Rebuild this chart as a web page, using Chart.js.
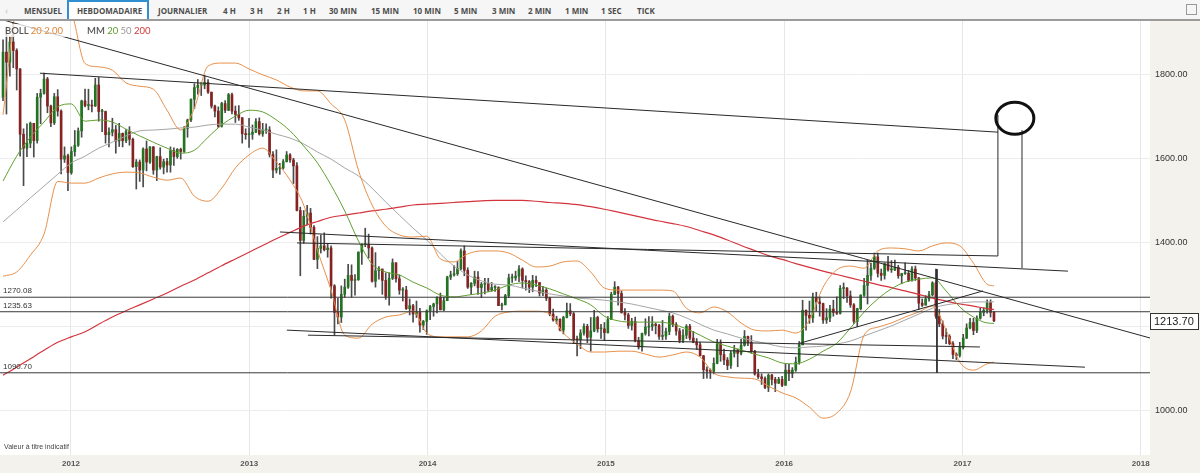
<!DOCTYPE html>
<html>
<head>
<meta charset="utf-8">
<script src="https://cdn.jsdelivr.net/npm/chart.js@4.4.1/dist/chart.umd.min.js"></script>
<style>
html, body { margin: 0; padding: 0; width: 1200px; height: 473px; overflow: hidden; background: #f4f2ed; font-family: "Liberation Sans", Arial, sans-serif; }
#bar { position: absolute; left: 0; top: 0; width: 1200px; height: 19px; background: #f6f6f6; border-bottom: 2px solid #9b9b9b; }
#bar span { position: absolute; top: 5px; font: bold 8px "Open Sans", sans-serif; color: #4d4d4d; white-space: nowrap; }
#sel { position: absolute; left: 67px; top: 0; width: 82px; height: 19px; box-sizing: border-box; border: 2px solid #2f8fd1; border-bottom: none; background: #fff; }
#icon { position: absolute; left: 1186px; top: 4px; width: 9px; height: 9px; border: 1px solid #9a9a9a; }
#wrap { position: absolute; left: 0; top: 21px; width: 1200px; height: 452px; }
.leg { position: absolute; top: 24px; height: 13px; padding: 0 3px; background: rgba(255,255,255,0.75); font: 600 9.5px Lato, sans-serif; color: #555; line-height: 13px; white-space: nowrap; }
#note { position: absolute; left: 4px; top: 443px; font: 7px "Liberation Sans", Arial, sans-serif; color: #444; }
</style>
</head>
<body>
<div id="bar">
  <span style="left:5px;color:#d0d0d0">‹</span>
  <div id="sel"></div>
  <span style="left:24px">MENSUEL</span>
  <span style="left:77px">HEBDOMADAIRE</span>
  <span style="left:158px">JOURNALIER</span>
  <span style="left:223px">4 H</span>
  <span style="left:250px">3 H</span>
  <span style="left:277px">2 H</span>
  <span style="left:303px">1 H</span>
  <span style="left:329px">30 MIN</span>
  <span style="left:371px">15 MIN</span>
  <span style="left:413px">10 MIN</span>
  <span style="left:454px">5 MIN</span>
  <span style="left:492px">3 MIN</span>
  <span style="left:528px">2 MIN</span>
  <span style="left:565px">1 MIN</span>
  <span style="left:601px">1 SEC</span>
  <span style="left:637px">TICK</span>
  <div id="icon"></div>
</div>
<div id="wrap"><canvas id="myChart" width="1200" height="452"></canvas></div>
<div class="leg" style="left:2px">BOLL <span style="color:#e0873a;font-weight:400">20 2.00</span></div>
<div class="leg" style="left:84px">MM <span style="color:#5c9e2e;font-weight:400">20</span> <span style="color:#999;font-weight:400">50</span> <span style="color:#d23a3a;font-weight:400">200</span></div>
<div id="note">Valeur à titre indicatif</div>
<script>
// weekly candles [open, high, low, close], week of 15 Aug 2011 onwards
const ohlc2011 = [
  [1745,1881,1737,1852],[1852,1912,1705,1828],[1828,1889,1795,1876],[1876,1921,1815,1856],[1856,1860,1762,1812],
  [1812,1813,1605,1657],[1657,1670,1535,1624],[1624,1682,1604,1636],[1636,1686,1625,1683],[1683,1683,1603,1642],
  [1642,1754,1636,1745],[1745,1764,1682,1754],[1754,1802,1752,1788],[1788,1792,1708,1724],[1724,1726,1675,1684],
  [1684,1754,1680,1746],[1746,1763,1700,1712],[1712,1715,1563,1598],[1598,1627,1590,1606],[1606,1610,1523,1566]
];
const ohlc2012 = [
  [1566,1627,1562,1616],[1616,1666,1605,1631],[1631,1672,1628,1665],[1665,1738,1650,1736],[1736,1764,1722,1725],
  [1725,1764,1715,1725],[1725,1738,1710,1724],[1724,1790,1723,1774],[1774,1792,1688,1711],[1711,1716,1663,1711],
  [1711,1712,1636,1656],[1656,1672,1627,1662],[1662,1695,1653,1668],[1668,1678,1612,1641],[1641,1683,1628,1659],
  [1659,1660,1627,1642],[1642,1669,1637,1663],[1663,1675,1631,1645],[1645,1648,1578,1580],[1580,1597,1527,1591],
  [1591,1596,1545,1572],[1572,1625,1532,1622],[1622,1641,1570,1591],[1591,1628,1588,1627],[1627,1628,1562,1572],
  [1572,1605,1547,1604],[1604,1625,1574,1579],[1579,1598,1563,1592],[1592,1600,1567,1584],[1584,1627,1567,1618],
  [1618,1625,1583,1604],[1604,1623,1600,1621],[1621,1624,1598,1616],[1616,1675,1614,1671],[1671,1693,1650,1691],
  [1691,1741,1687,1740],[1740,1777,1718,1768],[1768,1787,1752,1773],[1773,1780,1749,1774],[1774,1796,1765,1780],
  [1780,1787,1754,1757],[1757,1757,1719,1724],[1724,1726,1698,1712],[1712,1722,1673,1676],[1676,1733,1674,1730],
  [1730,1737,1708,1714],[1714,1754,1713,1751],[1751,1755,1705,1712],[1712,1724,1685,1704],[1704,1725,1690,1696],
  [1696,1697,1636,1658],[1658,1670,1645,1656]
];
const ohlc2013 = [
  [1656,1695,1626,1657],[1657,1679,1645,1662],[1662,1694,1661,1687],[1687,1696,1655,1658],[1658,1683,1652,1667],
  [1667,1682,1659,1667],[1667,1675,1603,1609],[1609,1616,1554,1572],[1572,1620,1565,1576],[1576,1588,1562,1577],
  [1577,1597,1574,1592],[1592,1616,1591,1608],[1608,1611,1590,1596],[1596,1600,1540,1582],[1582,1590,1475,1476],
  [1476,1484,1321,1405],[1405,1476,1398,1462],[1462,1488,1442,1470],[1470,1481,1420,1436],[1436,1440,1359,1360],
  [1360,1414,1338,1386],[1386,1418,1375,1392],[1392,1423,1380,1383],[1383,1397,1365,1387],[1387,1392,1268,1297],
  [1297,1300,1180,1234],[1234,1268,1207,1223],[1223,1297,1210,1277],[1277,1313,1270,1294],[1294,1348,1291,1322],
  [1322,1347,1270,1310],[1310,1324,1275,1312],[1312,1378,1310,1377],[1377,1397,1348,1395],[1395,1434,1390,1396],
  [1396,1420,1363,1387],[1387,1390,1306,1308],[1308,1376,1294,1333],[1333,1343,1313,1337],[1337,1337,1277,1310],
  [1310,1328,1265,1272],[1272,1328,1251,1315],[1315,1361,1312,1352],[1352,1352,1306,1314],[1314,1323,1277,1287],
  [1287,1293,1261,1287],[1287,1296,1241,1243],[1243,1266,1228,1250],[1250,1253,1211,1230],[1230,1261,1222,1235],
  [1235,1244,1187,1204],[1204,1215,1193,1213]
];
const ohlc2014 = [
  [1213,1240,1182,1238],[1238,1251,1217,1248],[1248,1256,1225,1254],[1254,1271,1233,1270],[1270,1280,1240,1240],
  [1240,1270,1238,1262],[1262,1320,1262,1318],[1318,1332,1312,1323],[1323,1345,1320,1326],[1326,1355,1322,1338],
  [1338,1385,1335,1380],[1380,1392,1321,1334],[1334,1340,1291,1294],[1294,1305,1277,1303],[1303,1332,1297,1318],
  [1318,1331,1277,1293],[1293,1305,1269,1301],[1301,1315,1278,1302],[1302,1315,1283,1287],[1287,1305,1284,1293],
  [1293,1298,1284,1293],[1293,1295,1250,1250],[1250,1256,1240,1252],[1252,1277,1252,1274],[1274,1325,1269,1316],
  [1316,1325,1305,1316],[1316,1332,1310,1320],[1320,1345,1307,1337],[1337,1340,1292,1310],[1310,1321,1287,1307],
  [1307,1310,1281,1294],[1294,1322,1283,1310],[1310,1320,1295,1305],[1305,1305,1273,1280],[1280,1296,1274,1287],
  [1287,1291,1262,1268],[1268,1270,1226,1230],[1230,1242,1213,1216],[1216,1225,1207,1218],[1218,1219,1190,1192],
  [1192,1225,1183,1222],[1222,1256,1221,1238],[1238,1255,1226,1231],[1231,1234,1160,1171],[1171,1178,1131,1169],
  [1169,1193,1148,1185],[1185,1207,1180,1201],[1201,1206,1162,1175],[1175,1222,1142,1190],[1190,1239,1188,1222],
  [1222,1225,1187,1195],[1195,1206,1172,1195]
];
const ohlc2015 = [
  [1195,1210,1167,1186],[1186,1224,1185,1217],[1217,1282,1217,1277],[1277,1307,1276,1294],[1294,1296,1251,1279],
  [1279,1285,1232,1234],[1234,1243,1216,1228],[1228,1232,1196,1203],[1203,1220,1192,1213],[1213,1223,1164,1167],
  [1167,1175,1147,1152],[1152,1185,1142,1184],[1184,1219,1180,1199],[1199,1224,1178,1201],[1201,1224,1191,1206],
  [1206,1209,1183,1203],[1203,1206,1170,1177],[1177,1215,1169,1178],[1178,1197,1170,1189],[1189,1232,1181,1225],
  [1225,1228,1200,1205],[1205,1210,1180,1190],[1190,1196,1162,1168],[1168,1193,1162,1180],[1180,1205,1172,1201],
  [1201,1206,1168,1173],[1173,1189,1162,1163],[1163,1172,1146,1157],[1157,1163,1131,1131],[1131,1132,1077,1098],
  [1098,1105,1078,1095],[1095,1100,1077,1094],[1094,1126,1088,1113],[1113,1170,1112,1160],[1160,1169,1118,1134],
  [1134,1147,1110,1121],[1121,1127,1098,1108],[1108,1142,1101,1137],[1137,1156,1128,1145],[1145,1147,1105,1137],
  [1137,1170,1133,1156],[1156,1191,1154,1177],[1177,1178,1155,1163],[1163,1179,1137,1142],[1142,1144,1085,1088],
  [1088,1099,1077,1081],[1081,1088,1063,1077],[1077,1081,1053,1056],[1056,1088,1046,1085],[1085,1087,1062,1075],
  [1075,1080,1046,1066],[1066,1080,1065,1075]
];
const ohlc2016 = [
  [1075,1082,1058,1061],[1061,1112,1061,1097],[1097,1111,1072,1089],[1089,1103,1079,1097],[1097,1128,1094,1116],
  [1116,1165,1111,1157],[1157,1263,1157,1239],[1239,1240,1192,1227],[1227,1261,1208,1221],[1221,1280,1210,1270],
  [1270,1282,1237,1259],[1259,1271,1225,1255],[1255,1256,1208,1216],[1216,1243,1208,1221],[1221,1251,1212,1242],
  [1242,1263,1225,1234],[1234,1271,1229,1232],[1232,1298,1230,1291],[1291,1304,1267,1292],[1292,1293,1258,1273],
  [1273,1285,1246,1252],[1252,1255,1208,1213],[1213,1244,1200,1243],[1243,1276,1240,1275],[1275,1315,1272,1298],
  [1298,1358,1254,1322],[1322,1351,1310,1339],[1339,1375,1336,1366],[1366,1375,1318,1327],[1327,1337,1310,1322],
  [1322,1351,1313,1350],[1350,1367,1332,1335],[1335,1357,1329,1335],[1335,1358,1333,1341],[1341,1346,1315,1321],
  [1321,1327,1302,1326],[1326,1352,1324,1327],[1327,1334,1307,1310],[1310,1343,1308,1337],[1337,1344,1310,1316],
  [1316,1317,1241,1256],[1256,1266,1248,1251],[1251,1274,1252,1266],[1266,1284,1261,1276],[1276,1307,1273,1304],
  [1304,1337,1220,1225],[1225,1241,1200,1207],[1207,1214,1171,1178],[1178,1195,1160,1177],[1177,1181,1157,1160],
  [1160,1165,1124,1134],[1134,1138,1122,1132],[1132,1163,1128,1151]
];
const ohlc2017 = [
  [1151,1182,1147,1173],[1173,1207,1172,1197],[1197,1220,1195,1210],[1210,1220,1181,1191],[1191,1226,1186,1220],
  [1220,1245,1218,1234],[1234,1245,1226,1239],[1239,1264,1232,1257],[1257,1264,1223,1234],[1234,1236,1212,1214]
];
const candles = [].concat(ohlc2011, ohlc2012, ohlc2013, ohlc2014, ohlc2015, ohlc2016, ohlc2017);

const firstWeek = 2011.619;          // 15 Aug 2011, in years
const weekLen = 7 / 365.25;
const weekX = i => firstWeek + i * weekLen;

// indicator readings, every 4th week (plus the last one)
const sampleWeeks = [];
for (let i = 0; i <= 288; i += 4) sampleWeeks.push(i);
sampleWeeks.push(290);

const bollUpper = [1703,1960,1990,1985,1965,1945,1825,1817,1809,1779,1771,1764,1714,1667,1719,1819,1826,1826,1812,1798,
  1786,1769,1760,1760,1729,1691,1572,1489,1439,1418,1413,1415,1361,1354,1373,1380,1380,1375,1358,1342,
  1344,1354,1356,1330,1292,1287,1287,1287,1287,1285,1244,1233,1247,1235,1209,1192,1190,1192,1185,1216,
  1294,1335,1344,1339,1380,1387,1385,1380,1392,1399,1392,1351,1301,1297];
const bollLower = [1320,1330,1370,1420,1545,1541,1541,1553,1563,1567,1565,1555,1548,1553,1510,1498,1529,1577,1608,1624,
  1591,1548,1489,1382,1287,1180,1173,1206,1223,1228,1237,1185,1176,1176,1176,1190,1225,1235,1237,1237,
  1230,1185,1159,1140,1140,1142,1142,1135,1128,1133,1140,1128,1090,1081,1078,1076,1059,1043,1031,1009,
  983,995,1045,1180,1199,1209,1223,1235,1249,1192,1116,1097,1112,1116];
const mm20 = [1546,1605,1650,1686,1722,1729,1688,1691,1686,1669,1653,1638,1624,1612,1619,1650,1679,1700,1714,1710,
  1691,1665,1629,1589,1536,1475,1404,1349,1330,1323,1306,1292,1275,1271,1275,1280,1287,1299,1304,1299,
  1290,1278,1266,1252,1225,1214,1211,1211,1211,1206,1195,1180,1164,1154,1145,1135,1126,1114,1112,1123,
  1142,1161,1197,1235,1266,1290,1306,1313,1316,1285,1247,1223,1209,1208];
const mm50 = [1449,1477,1506,1534,1562,1589,1605,1624,1638,1653,1665,1667,1669,1672,1674,1679,1681,1681,1674,1667,
  1657,1648,1634,1615,1598,1577,1558,1529,1496,1465,1434,1406,1373,1344,1323,1309,1301,1299,1292,1285,
  1278,1273,1268,1266,1263,1259,1254,1247,1240,1233,1221,1206,1192,1183,1173,1166,1159,1152,1150,1152,
  1154,1159,1166,1178,1190,1202,1216,1230,1244,1252,1256,1259,1259,1259];
const mm200 = [1085,1104,1124,1144,1163,1176,1188,1206,1223,1238,1252,1266,1280,1296,1311,1328,1345,1361,1377,1393,
  1409,1424,1439,1450,1460,1465,1470,1475,1479,1484,1489,1491,1493,1495,1497,1499,1500,1500,1500,1498,
  1495,1493,1490,1485,1479,1472,1465,1458,1451,1445,1438,1428,1418,1406,1393,1381,1369,1360,1350,1341,
  1332,1324,1316,1308,1300,1293,1285,1277,1268,1261,1254,1249,1243,1241];

// drawn trend lines, [year, price] end points
const trendLines = [
  [[2011.602, 1930.5], [2018.052, 1173.3]],
  [[2011.826, 1802], [2017.199, 1662]],
  [[2013.172, 1425], [2017.592, 1332]],
  [[2013.268, 1399], [2017.199, 1368]],
  [[2017.199, 1368], [2017.199, 1703]],
  [[2017.334, 1339], [2017.334, 1667]],
  [[2013.211, 1192], [2017.687, 1104]],
  [[2013.329, 1180], [2017.098, 1152]],
  [[2016.089, 1161], [2017.115, 1285]],
  [[2016.857, 1337], [2016.857, 1090.7]]
];
const levels = [1270.08, 1235.63, 1090.70];
const circleAt = [2017.294, 1695];
const lastPrice = 1213.70;
const years = [2012, 2013, 2014, 2015, 2016, 2017, 2018];
const priceTicks = [1000, 1200, 1400, 1600, 1800];

const xMin = 2011.602, xMax = 2018.052;
const yMin = 895.5, yMax = 1925.9;

const bodies = candles.map((c, i) => ({ x: weekX(i), y: [c[0], c[3]] }));
const wicks = candles.map((c, i) => ({ x: weekX(i), y: [c[2], c[1]] }));
const bodyColors = candles.map(c => c[3] >= c[0] ? '#237323' : '#862222');

const series = (vals) => vals.map((v, k) => ({ x: weekX(sampleWeeks[k]), y: v }));
const lineSet = (vals, color, w, order) => ({
  type: 'line', data: series(vals), borderColor: color, borderWidth: w,
  pointRadius: 0, cubicInterpolationMode: 'monotone', order: order
});

const datasets = [
  { type: 'bar', data: wicks, backgroundColor: '#4a4a4a', barThickness: 1, grouped: false, order: 5 },
  { type: 'bar', data: bodies, backgroundColor: bodyColors, barThickness: 2, minBarLength: 1, grouped: false, order: 4 },
  lineSet(mm200, '#d3343d', 1.2, 3),
  lineSet(mm50, '#a6a6a6', 1, 3),
  lineSet(mm20, '#62a032', 1, 2),
  lineSet(bollUpper, '#e8904a', 1, 2),
  lineSet(bollLower, '#e8904a', 1, 2)
];
trendLines.forEach(l => datasets.push({
  type: 'line', data: l.map(p => ({ x: p[0], y: p[1] })), borderColor: '#2a2a2a',
  borderWidth: 1, pointRadius: 0, tension: 0, order: 0
}));
levels.forEach(v => datasets.push({
  type: 'line', data: [{ x: xMin, y: v }, { x: xMax, y: v }], borderColor: '#3a3a3a',
  borderWidth: 1, pointRadius: 0, order: 0
}));

const extras = {
  id: 'extras',
  beforeDraw(chart) {
    const { ctx, chartArea: a } = chart;
    ctx.save();
    ctx.fillStyle = '#fff';
    ctx.fillRect(a.left, a.top, a.right - a.left, a.bottom - a.top);
    ctx.restore();
  },
  afterDraw(chart) {
    const { ctx, chartArea: a, scales: { x, y } } = chart;
    ctx.save();
    ctx.font = '8px "Liberation Sans", Arial, sans-serif';
    ctx.fillStyle = '#333';
    ctx.textBaseline = 'bottom';
    levels.forEach(v => ctx.fillText(v.toFixed(2), 3, y.getPixelForValue(v) - 2));

    ctx.beginPath();
    ctx.lineWidth = 3;
    ctx.strokeStyle = '#111';
    ctx.ellipse(x.getPixelForValue(circleAt[0]), y.getPixelForValue(circleAt[1]), 19, 16, 0, 0, Math.PI * 2);
    ctx.stroke();

    const py = Math.round(y.getPixelForValue(lastPrice));
    ctx.fillStyle = '#fff';
    ctx.fillRect(a.right, py - 8, 49, 17);
    ctx.strokeStyle = '#333';
    ctx.lineWidth = 1;
    ctx.strokeRect(a.right + 0.5, py - 7.5, 48, 16);
    ctx.fillStyle = '#222';
    ctx.font = '11px "Liberation Sans", Arial, sans-serif';
    ctx.textBaseline = 'middle';
    ctx.fillText(lastPrice.toFixed(2), a.right + 4, py + 1);
    ctx.restore();
  }
};

const noPad = s => { s.paddingTop = 0; s.paddingBottom = 0; s.paddingLeft = 0; s.paddingRight = 0; };

const ctx = document.getElementById('myChart');
new Chart(ctx, {
  type: 'bar',
  data: { datasets: datasets },
  options: {
    responsive: false,
    animation: false,
    events: [],
    layout: { padding: 0 },
    plugins: { legend: { display: false }, tooltip: { enabled: false } },
    scales: {
      x: {
        type: 'linear', min: xMin, max: xMax, offset: false,
        grid: { color: '#e7e7e7', drawTicks: false, offset: false },
        border: { display: false },
        afterBuildTicks: s => { s.ticks = years.map(v => ({ value: v })); },
        afterFit: s => { s.height = 18; noPad(s); },
        ticks: {
          autoSkip: false, maxRotation: 0, padding: 4, color: '#555',
          font: { family: '"Liberation Sans", Arial, sans-serif', size: 8, weight: 'bold' },
          callback: v => String(v)
        }
      },
      y: {
        type: 'linear', position: 'right', min: yMin, max: yMax,
        grid: { color: '#ececec', drawTicks: false },
        border: { display: false },
        afterBuildTicks: s => { s.ticks = priceTicks.map(v => ({ value: v })); },
        afterFit: s => { s.width = 50; noPad(s); },
        ticks: {
          padding: 5, color: '#333',
          font: { family: '"Liberation Sans", Arial, sans-serif', size: 9 },
          callback: v => v.toFixed(2)
        }
      }
    }
  },
  plugins: [extras]
});
</script>
</body>
</html>
